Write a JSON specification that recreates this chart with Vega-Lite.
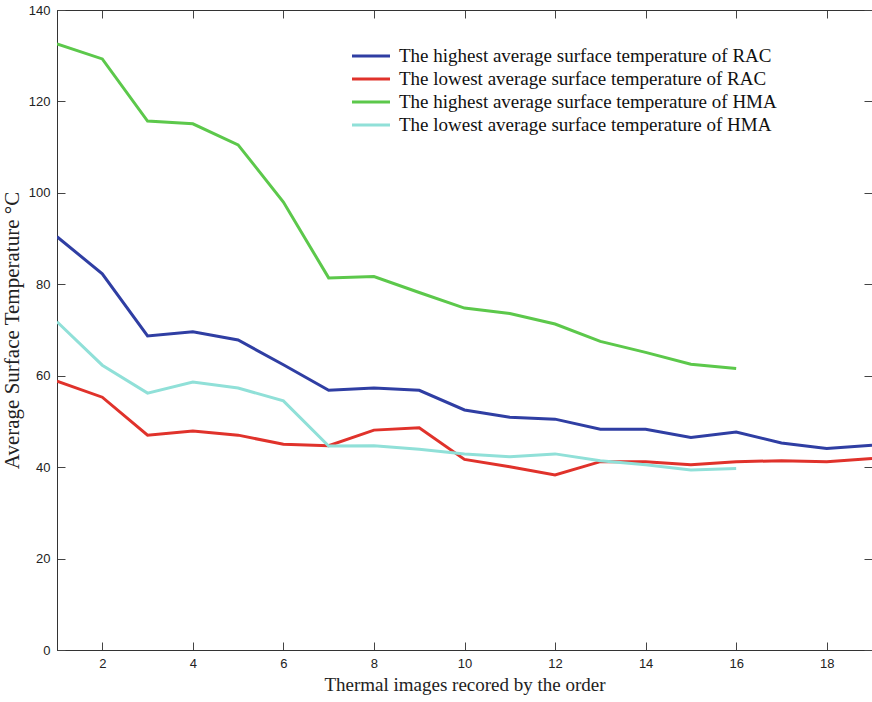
{
  "$schema": "https://vega.github.io/schema/vega-lite/v6.json",
  "autosize": "none",
  "width": 815,
  "height": 640,
  "padding": {"left": 57, "top": 10, "right": 0, "bottom": 52},
  "background": "white",
  "config": {"view": {"stroke": "#333", "strokeWidth": 1}},
  "datasets": {
    "d": [
      {"x":1,"s":"The highest average surface temperature of RAC","t":90.4},
      {"x":2,"s":"The highest average surface temperature of RAC","t":82.3},
      {"x":3,"s":"The highest average surface temperature of RAC","t":68.7},
      {"x":4,"s":"The highest average surface temperature of RAC","t":69.6},
      {"x":5,"s":"The highest average surface temperature of RAC","t":67.8},
      {"x":6,"s":"The highest average surface temperature of RAC","t":62.4},
      {"x":7,"s":"The highest average surface temperature of RAC","t":56.8},
      {"x":8,"s":"The highest average surface temperature of RAC","t":57.3},
      {"x":9,"s":"The highest average surface temperature of RAC","t":56.8},
      {"x":10,"s":"The highest average surface temperature of RAC","t":52.5},
      {"x":11,"s":"The highest average surface temperature of RAC","t":50.9},
      {"x":12,"s":"The highest average surface temperature of RAC","t":50.5},
      {"x":13,"s":"The highest average surface temperature of RAC","t":48.3},
      {"x":14,"s":"The highest average surface temperature of RAC","t":48.3},
      {"x":15,"s":"The highest average surface temperature of RAC","t":46.5},
      {"x":16,"s":"The highest average surface temperature of RAC","t":47.7},
      {"x":17,"s":"The highest average surface temperature of RAC","t":45.3},
      {"x":18,"s":"The highest average surface temperature of RAC","t":44.1},
      {"x":19,"s":"The highest average surface temperature of RAC","t":44.8},
      {"x":1,"s":"The lowest average surface temperature of RAC","t":58.8},
      {"x":2,"s":"The lowest average surface temperature of RAC","t":55.3},
      {"x":3,"s":"The lowest average surface temperature of RAC","t":47.0},
      {"x":4,"s":"The lowest average surface temperature of RAC","t":47.9},
      {"x":5,"s":"The lowest average surface temperature of RAC","t":47.0},
      {"x":6,"s":"The lowest average surface temperature of RAC","t":45.0},
      {"x":7,"s":"The lowest average surface temperature of RAC","t":44.7},
      {"x":8,"s":"The lowest average surface temperature of RAC","t":48.1},
      {"x":9,"s":"The lowest average surface temperature of RAC","t":48.6},
      {"x":10,"s":"The lowest average surface temperature of RAC","t":41.7},
      {"x":11,"s":"The lowest average surface temperature of RAC","t":40.1},
      {"x":12,"s":"The lowest average surface temperature of RAC","t":38.3},
      {"x":13,"s":"The lowest average surface temperature of RAC","t":41.2},
      {"x":14,"s":"The lowest average surface temperature of RAC","t":41.2},
      {"x":15,"s":"The lowest average surface temperature of RAC","t":40.5},
      {"x":16,"s":"The lowest average surface temperature of RAC","t":41.2},
      {"x":17,"s":"The lowest average surface temperature of RAC","t":41.4},
      {"x":18,"s":"The lowest average surface temperature of RAC","t":41.2},
      {"x":19,"s":"The lowest average surface temperature of RAC","t":41.9},
      {"x":1,"s":"The highest average surface temperature of HMA","t":132.6},
      {"x":2,"s":"The highest average surface temperature of HMA","t":129.3},
      {"x":3,"s":"The highest average surface temperature of HMA","t":115.7},
      {"x":4,"s":"The highest average surface temperature of HMA","t":115.1},
      {"x":5,"s":"The highest average surface temperature of HMA","t":110.5},
      {"x":6,"s":"The highest average surface temperature of HMA","t":98.0},
      {"x":7,"s":"The highest average surface temperature of HMA","t":81.4},
      {"x":8,"s":"The highest average surface temperature of HMA","t":81.7},
      {"x":9,"s":"The highest average surface temperature of HMA","t":78.2},
      {"x":10,"s":"The highest average surface temperature of HMA","t":74.8},
      {"x":11,"s":"The highest average surface temperature of HMA","t":73.6},
      {"x":12,"s":"The highest average surface temperature of HMA","t":71.3},
      {"x":13,"s":"The highest average surface temperature of HMA","t":67.5},
      {"x":14,"s":"The highest average surface temperature of HMA","t":65.1},
      {"x":15,"s":"The highest average surface temperature of HMA","t":62.5},
      {"x":16,"s":"The highest average surface temperature of HMA","t":61.6},
      {"x":1,"s":"The lowest average surface temperature of HMA","t":71.8},
      {"x":2,"s":"The lowest average surface temperature of HMA","t":62.3},
      {"x":3,"s":"The lowest average surface temperature of HMA","t":56.2},
      {"x":4,"s":"The lowest average surface temperature of HMA","t":58.6},
      {"x":5,"s":"The lowest average surface temperature of HMA","t":57.3},
      {"x":6,"s":"The lowest average surface temperature of HMA","t":54.5},
      {"x":7,"s":"The lowest average surface temperature of HMA","t":44.6},
      {"x":8,"s":"The lowest average surface temperature of HMA","t":44.7},
      {"x":9,"s":"The lowest average surface temperature of HMA","t":43.9},
      {"x":10,"s":"The lowest average surface temperature of HMA","t":42.9},
      {"x":11,"s":"The lowest average surface temperature of HMA","t":42.3},
      {"x":12,"s":"The lowest average surface temperature of HMA","t":42.9},
      {"x":13,"s":"The lowest average surface temperature of HMA","t":41.4},
      {"x":14,"s":"The lowest average surface temperature of HMA","t":40.5},
      {"x":15,"s":"The lowest average surface temperature of HMA","t":39.4},
      {"x":16,"s":"The lowest average surface temperature of HMA","t":39.7}
    ]
  },
  "data": {"name": "d"},
  "resolve": {"axis": {"x": "independent", "y": "independent"}},
  "layer": [
    {
      "mark": {"type": "line", "strokeWidth": 3, "clip": true},
      "encoding": {
        "x": {
          "field": "x", "type": "quantitative",
          "scale": {"domain": [1, 19], "nice": false, "zero": false},
          "axis": {
            "title": "Thermal images recored by the order",
            "titleFont": "Liberation Serif", "titleFontSize": 19, "titleFontWeight": "normal",
            "titleColor": "#222", "titlePadding": 5,
            "values": [2,4,6,8,10,12,14,16,18],
            "labelFont": "Liberation Sans", "labelFontSize": 13, "labelColor": "#222",
            "labelPadding": 15, "tickSize": -8, "tickColor": "#444",
            "domainColor": "#333", "grid": false
          }
        },
        "y": {
          "field": "t", "type": "quantitative",
          "scale": {"domain": [0, 140], "nice": false},
          "axis": {
            "title": "Average Surface Temperature °C",
            "titleFont": "Liberation Serif", "titleFontSize": 21, "titleFontWeight": "normal",
            "titleColor": "#222", "titlePadding": 6,
            "values": [0,20,40,60,80,100,120,140],
            "labelFont": "Liberation Sans", "labelFontSize": 13, "labelColor": "#222",
            "labelPadding": 15, "tickSize": -8, "tickColor": "#444",
            "domainColor": "#333", "grid": false
          }
        },
        "color": {
          "field": "s", "type": "nominal",
          "scale": {
            "domain": [
              "The highest average surface temperature of RAC",
              "The lowest average surface temperature of RAC",
              "The highest average surface temperature of HMA",
              "The lowest average surface temperature of HMA"
            ],
            "range": ["#2f3ea3", "#e0322b", "#5cc84b", "#90e0d8"]
          },
          "legend": {
            "title": null, "orient": "none", "legendX": 303, "legendY": 35,
            "symbolType": "M-2,0H2", "symbolSize": 361, "symbolStrokeWidth": 3,
            "labelFont": "Liberation Serif", "labelFontSize": 19, "labelColor": "#111",
            "labelLimit": 600, "rowPadding": 2, "labelOffset": 17
          }
        }
      }
    },
    {
      "mark": {"type": "line", "opacity": 0},
      "encoding": {
        "x": {
          "field": "x", "type": "quantitative",
          "scale": {"domain": [1, 19], "nice": false, "zero": false},
          "axis": {"orient": "top", "title": null, "labels": false, "values": [2,4,6,8,10,12,14,16,18], "tickSize": -8, "tickColor": "#444", "domainColor": "#333", "grid": false}
        },
        "y": {
          "field": "t", "type": "quantitative",
          "scale": {"domain": [0, 140], "nice": false},
          "axis": {"orient": "right", "title": null, "labels": false, "values": [0,20,40,60,80,100,120,140], "tickSize": -8, "tickColor": "#444", "domainColor": "#333", "grid": false}
        }
      }
    }
  ]
}
